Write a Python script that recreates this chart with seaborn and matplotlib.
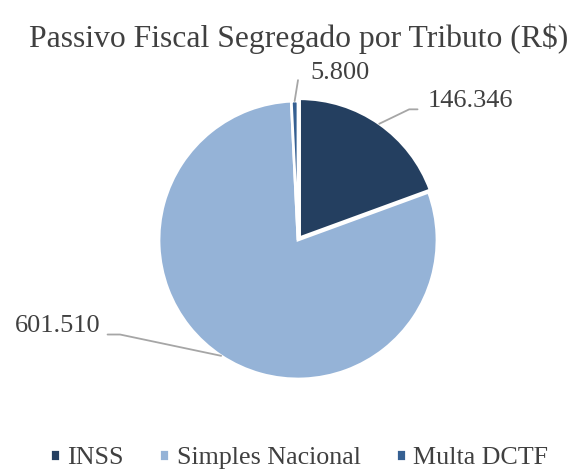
import matplotlib
matplotlib.use("Agg")
import matplotlib.pyplot as plt
import numpy as np
import seaborn as sns

# dados do gráfico
tributos = ["INSS", "Simples Nacional", "Multa DCTF"]
valores = [146346, 601510, 5800]
rotulos = ["146.346", "601.510", "5.800"]
cores = ["#243F60", "#95B3D7", "#366092"]

sns.set_theme(style="white")
plt.rcParams["font.family"] = ["Liberation Serif", "DejaVu Serif"]

W, H = 573, 471
fig = plt.figure(figsize=(W / 100, H / 100), dpi=100)
ax = fig.add_axes([0, 0, 1, 1])

# centro e raio da pizza em pixels
cx, cy, r = 298, 240, 139

wedges, _ = ax.pie(
    valores,
    colors=cores,
    startangle=90,
    counterclock=False,
    explode=[0.02, 0, 0],
    wedgeprops=dict(edgecolor="white", linewidth=2),
    radius=1.0,
    frame=True,
)
ax.set_xlim(-cx / r, (W - cx) / r)
ax.set_ylim(-(H - cy) / r, cy / r)
ax.set_aspect("auto")
ax.axis("off")

# posição dos rótulos: (cotovelo, fim da linha, texto, alinhamento)
rot_pos = {
    "146.346": ((0.8, 0.94), (0.86, 0.94), (0.93, 1.0), "left"),
    "601.510": ((-1.28, -0.68), (-1.37, -0.68), (-1.42, -0.62), "right"),
    "5.800": ((0.0, 1.15), (0.0, 1.15), (0.09, 1.2), "left"),
}
cinza = "#A6A6A6"
serif = ["Liberation Serif", "DejaVu Serif"]
for w, lab in zip(wedges, rotulos):
    ang = np.deg2rad((w.theta1 + w.theta2) / 2)
    x0, y0 = np.cos(ang) + w.center[0], np.sin(ang) + w.center[1]
    cot, fim, txt, ha = rot_pos[lab]
    ax.plot([x0, cot[0], fim[0]], [y0, cot[1], fim[1]], color=cinza, lw=1.3)
    ax.text(txt[0], txt[1], lab, ha=ha, va="center", fontsize=19,
            color="#404040", family=serif)

fig.text(0.522, 0.918, "Passivo Fiscal Segregado por Tributo (R$)", ha="center",
         va="center", fontsize=22.8, color="#404040", family=serif)

leg = ax.legend(wedges, tributos, loc="center", bbox_to_anchor=(0.522, 0.027),
                ncol=3, frameon=False, prop=dict(family=serif, size=18.7),
                handlelength=0.38, handleheight=0.38, handletextpad=0.3,
                columnspacing=1.35, labelcolor="#404040")

fig.savefig("out.png", dpi=100)
